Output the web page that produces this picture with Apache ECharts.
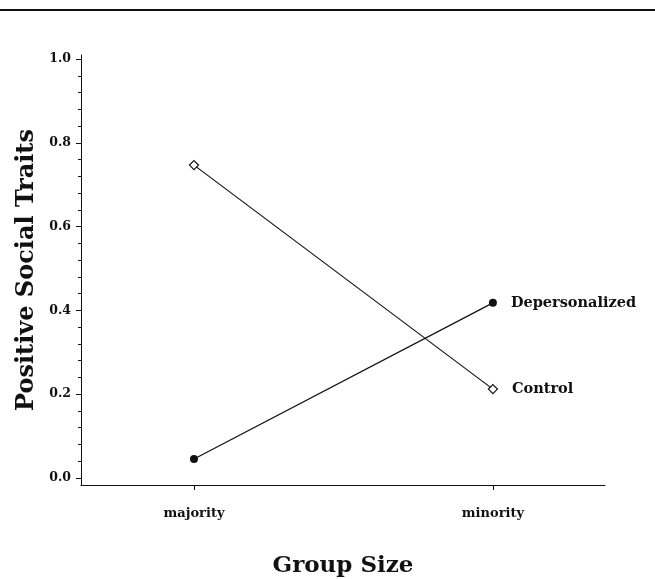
<!DOCTYPE html>
<html><head><meta charset="utf-8">
<script src="https://cdn.jsdelivr.net/npm/echarts@6/dist/echarts.min.js"></script>
<style>html,body{margin:0;padding:0;background:#fff}#c{width:655px;height:579px}</style>
</head><body><div id="c"></div>
<script>
const categories = ['majority', 'minority'];
const depersonalized = [0.045, 0.418];
const control = [0.747, 0.212];
const yTicks = [0.0, 0.2, 0.4, 0.6, 0.8, 1.0];
const yMinorTicks = [0.04,0.08,0.12,0.16,0.24,0.28,0.32,0.36,0.44,0.48,0.52,0.56,0.64,0.68,0.72,0.76,0.84,0.88,0.92,0.96];
const seriesNames = ['Depersonalized', 'Control'];

const font = 'DejaVu Serif';
const chart = echarts.init(document.getElementById('c'), null, {renderer: 'canvas'});
const pts = arr => arr.map((v, i) => [i, v]);
const lbl = {
  show: true, position: 'right', distance: 14, fontFamily: font, fontWeight: 'bold',
  fontSize: 14.5, color: '#111',
  formatter: p => p.dataIndex === categories.length - 1 ? p.seriesName : ''
};
chart.setOption({
  animation: false,
  backgroundColor: '#fff',
  grid: {left: 81, right: 50, top: 55, bottom: 94, outerBoundsMode: 'none', containLabel: false},
  graphic: [{type: 'line', shape: {x1: 0, y1: 10, x2: 655, y2: 10}, style: {stroke: '#111', lineWidth: 2}}],
  xAxis: {
    type: 'value', min: -0.378, max: 1.375,
    name: 'Group Size', nameLocation: 'middle', nameGap: 70,
    nameTextStyle: {fontFamily: font, fontWeight: 'bold', fontSize: 23, color: '#111'},
    axisLine: {show: true, onZero: false, lineStyle: {color: '#111', width: 1}},
    axisTick: {show: true, customValues: [0, 1], length: 5, lineStyle: {color: '#111'}},
    axisLabel: {customValues: [0, 1], formatter: v => categories[Math.round(v)], margin: 22,
      fontFamily: font, fontWeight: 'bold', fontSize: 13, color: '#111'},
    splitLine: {show: false}
  },
  yAxis: [{
    type: 'value', min: -0.017, max: 1.01,
    name: 'Positive Social Traits', nameLocation: 'middle', nameGap: 33, nameRotate: 90,
    nameTextStyle: {fontFamily: font, fontWeight: 'bold', fontSize: 24, color: '#111'},
    axisLine: {show: true, onZero: false, lineStyle: {color: '#111', width: 1}},
    axisTick: {show: true, customValues: yTicks, length: 5, lineStyle: {color: '#111'}},
    axisLabel: {customValues: yTicks, formatter: v => v.toFixed(1), margin: 10,
      fontFamily: font, fontWeight: 'bold', fontSize: 12.5, color: '#111'},
    splitLine: {show: false}
  }, {
    type: 'value', min: -0.017, max: 1.01, position: 'left', offset: 0,
    axisLine: {show: false, onZero: false},
    axisTick: {show: true, customValues: yMinorTicks, length: 3, lineStyle: {color: '#111'}},
    axisLabel: {show: false, customValues: yMinorTicks},
    splitLine: {show: false}
  }],
  series: [{
    name: seriesNames[0], type: 'line', data: pts(depersonalized),
    symbol: 'circle', symbolSize: 8,
    itemStyle: {color: '#111'}, lineStyle: {color: '#111', width: 1.2},
    label: lbl
  }, {
    name: seriesNames[1], type: 'line', data: pts(control),
    symbol: 'diamond', symbolSize: 9,
    itemStyle: {color: '#fff', borderColor: '#111', borderWidth: 1.2},
    lineStyle: {color: '#111', width: 1.2},
    label: lbl
  }]
});
</script></body></html>
